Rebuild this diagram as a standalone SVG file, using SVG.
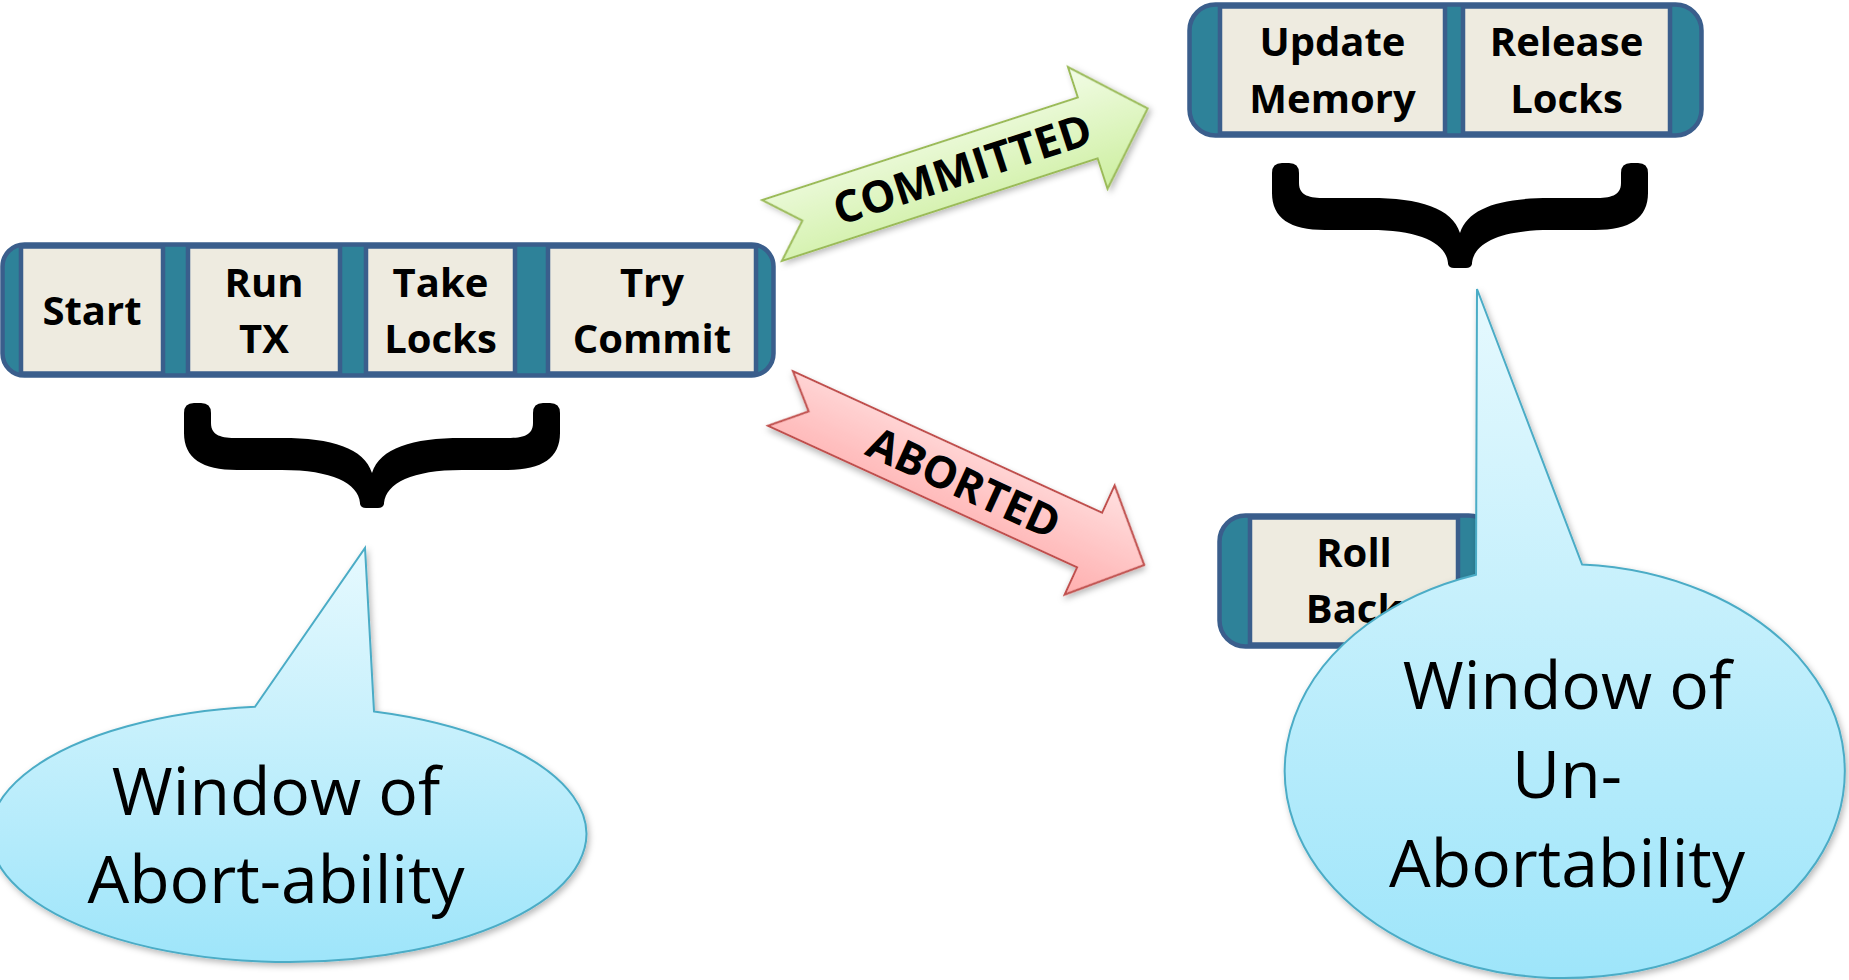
<svg xmlns="http://www.w3.org/2000/svg" width="1849" height="980" viewBox="0 0 1849 980">
  <defs>
    <style>
      .bar { fill: #2E8299; stroke: #3A5E8C; stroke-width: 4.5; }
      .cell { fill: #EEEBE0; stroke: #3A5E8C; stroke-width: 4.5; }
      .lbl { font-family: "Open Sans", "Noto Sans", "DejaVu Sans", sans-serif; font-weight: bold; font-size: 40px; fill: #000; text-anchor: middle; }
      .brace { fill: #000; }
      .bubble { stroke: #4BACC6; stroke-width: 2; fill: url(#bubbleFill); }
      .bubbleText { font-family: "Open Sans", "Noto Sans", "DejaVu Sans", sans-serif; font-size: 66px; fill: #000; text-anchor: middle; }
      .arrowText { font-family: "Open Sans", "Noto Sans", "DejaVu Sans", sans-serif; font-weight: bold; font-size: 44px; fill: #000; text-anchor: middle; }
    </style>
    <linearGradient id="bubbleFill" x1="0" y1="0" x2="0" y2="1">
      <stop offset="0" stop-color="#E6F9FE"/>
      <stop offset="0.45" stop-color="#C6F0FC"/>
      <stop offset="1" stop-color="#9EE5FA"/>
    </linearGradient>
    <linearGradient id="greenFill" gradientUnits="userSpaceOnUse" x1="0" y1="-64" x2="0" y2="64">
      <stop offset="0" stop-color="#F2FCE6"/>
      <stop offset="1" stop-color="#CDEFA0"/>
    </linearGradient>
    <linearGradient id="redFill" gradientUnits="userSpaceOnUse" x1="0" y1="-60" x2="0" y2="60">
      <stop offset="0" stop-color="#FFE0E0"/>
      <stop offset="1" stop-color="#FFAEAE"/>
    </linearGradient>
    <filter id="shadow" x="-10%" y="-10%" width="125%" height="130%">
      <feDropShadow dx="2" dy="3" stdDeviation="3" flood-color="#000" flood-opacity="0.28"/>
    </filter>
    <!-- curly brace opening downward, origin at top centre -->
    <path id="braceShape" d="M -188,10 Q -188,0 -178,0 L -171,0 Q -161,0 -161,10 L -161,20 C -161,33 -150,35 -135,35 L -90,35 C -40,35 -8,45 0,70 C 8,45 40,35 90,35 L 135,35 C 150,35 161,33 161,20 L 161,10 Q 161,0 171,0 L 178,0 Q 188,0 188,10 L 188,30 C 188,55 170,67 135,67 L 90,67 C 40,67 14,80 12,100 L 12,101 Q 11,105 6,105 L -6,105 Q -11,105 -12,101 L -12,100 C -14,80 -40,67 -90,67 L -135,67 C -170,67 -188,55 -188,30 Z"/>
  </defs>

  <rect width="1849" height="980" fill="#FFFFFF"/>

  <!-- transaction phases -->
  <g id="tx-pipeline">
    <rect class="bar" x="2.5" y="244.5" width="771" height="131" rx="22" ry="22"/>
    <g id="node-start">
      <rect class="cell" x="21" y="246.5" width="142" height="127"/>
      <text class="lbl" x="92" y="325">Start</text>
    </g>
    <g id="node-run-tx">
      <rect class="cell" x="188" y="246.5" width="152" height="127"/>
      <text class="lbl" x="264" y="297">Run</text>
      <text class="lbl" x="264" y="353">TX</text>
    </g>
    <g id="node-take-locks">
      <rect class="cell" x="366" y="246.5" width="149" height="127"/>
      <text class="lbl" x="440.5" y="297">Take</text>
      <text class="lbl" x="440.5" y="353">Locks</text>
    </g>
    <g id="node-try-commit">
      <rect class="cell" x="548" y="246.5" width="208" height="127"/>
      <text class="lbl" x="652" y="297">Try</text>
      <text class="lbl" x="652" y="353">Commit</text>
    </g>
  </g>

  <!-- commit path -->
  <g id="commit-pipeline">
    <rect class="bar" x="1189.5" y="4.5" width="512" height="131" rx="26" ry="26"/>
    <g id="node-update-memory">
      <rect class="cell" x="1220" y="6.5" width="225" height="127"/>
      <text class="lbl" x="1332.5" y="56" font-size="41">Update</text>
      <text class="lbl" x="1332.5" y="113" font-size="41">Memory</text>
    </g>
    <g id="node-release-locks">
      <rect class="cell" x="1463" y="6.5" width="207" height="127"/>
      <text class="lbl" x="1566.5" y="56" font-size="41">Release</text>
      <text class="lbl" x="1566.5" y="113" font-size="41">Locks</text>
    </g>
  </g>

  <!-- abort path -->
  <g id="abort-pipeline">
    <rect class="bar" x="1219.5" y="515.5" width="275" height="131" rx="26" ry="26"/>
    <g id="node-roll-back">
      <rect class="cell" x="1250" y="517.5" width="208" height="127"/>
      <text class="lbl" x="1354" y="567" font-size="41">Roll</text>
      <text class="lbl" x="1354" y="623" font-size="41">Back</text>
    </g>
  </g>

  <!-- outcome arrows -->
  <g id="connectors">
    <g id="arrow-committed" transform="translate(772,230.5) rotate(-18)">
      <polygon points="0,-32 332,-32 332,-64 395,0 332,64 332,32 0,32 32,0" fill="url(#greenFill)" stroke="#9BBB59" stroke-width="2" stroke-linejoin="miter" filter="url(#shadow)"/>
      <text class="arrowText" x="200" y="16">COMMITTED</text>
    </g>
    <g id="arrow-aborted" transform="translate(780.5,398.5) rotate(24.6)">
      <polygon points="0,-30 340,-30 340,-60 400,0 340,60 340,30 0,30 31,0" fill="url(#redFill)" stroke="#C0504D" stroke-width="2" stroke-linejoin="miter" filter="url(#shadow)"/>
      <text class="arrowText" x="202" y="16">ABORTED</text>
    </g>
  </g>

  <!-- braces grouping the phases -->
  <g id="brace-abortable" transform="translate(372,403)">
    <use href="#braceShape" class="brace"/>
  </g>
  <g id="brace-unabortable" transform="translate(1460,163)">
    <use href="#braceShape" class="brace"/>
  </g>

  <!-- callouts -->
  <g id="callout-abortability">
    <path class="bubble" filter="url(#shadow)" d="M 255,706.8 L 365,548 L 374,711.4 A 298 128 0 1 1 255,706.8 Z"/>
    <text class="bubbleText" x="276" y="815">Window of</text>
    <text class="bubbleText" x="276" y="903">Abort-ability</text>
  </g>
  <g id="callout-unabortability">
    <path class="bubble" filter="url(#shadow)" d="M 1476,574.7 L 1477,289 L 1582,564.4 A 280 207 0 1 1 1476,574.7 Z"/>
    <text class="bubbleText" x="1567" y="709">Window of</text>
    <text class="bubbleText" x="1567" y="798">Un-</text>
    <text class="bubbleText" x="1567" y="887">Abortability</text>
  </g>
</svg>
